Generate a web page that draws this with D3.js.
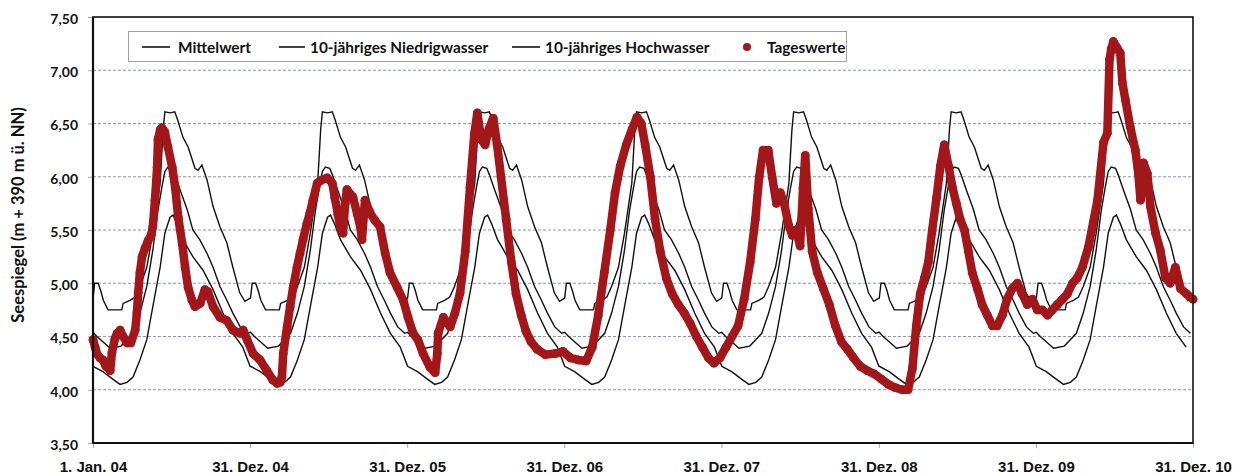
<!DOCTYPE html>
<html>
<head>
<meta charset="utf-8">
<script src="https://cdn.jsdelivr.net/npm/d3@7"></script>
<style>
  body { margin: 0; background: #fff; }
  svg { display: block; }
</style>
</head>
<body>
<svg id="chart" width="1237" height="475"></svg>
<script>
// ---- data -------------------------------------------------------------
const yTickValues = [3.5, 4.0, 4.5, 5.0, 5.5, 6.0, 6.5, 7.0, 7.5];
const xTickDates = ["2004-01-01", "2004-12-31", "2005-12-31", "2006-12-31",
                    "2007-12-31", "2008-12-31", "2009-12-31", "2010-12-31"];
const xTickLabels = ["1. Jan. 04", "31. Dez. 04", "31. Dez. 05", "31. Dez. 06",
                     "31. Dez. 07", "31. Dez. 08", "31. Dez. 09", "31. Dez. 10"];
const years = [2004, 2005, 2006, 2007, 2008, 2009, 2010];

// Day-of-year statistics (day index, level in m + 390 m ü. NN)
const mittelDays   = [0, 9, 23, 40, 65, 93, 109, 125, 139, 151, 160, 167, 174, 184, 190, 202, 219, 232, 248, 265, 279, 295, 311, 325, 342, 358, 365];
const mittelLevels = [4.54, 4.50, 4.45, 4.39, 4.41, 4.53, 4.72, 4.97, 5.31, 5.69, 5.90, 6.05, 6.09, 6.08, 6.02, 5.88, 5.69, 5.50, 5.41, 5.28, 5.15, 4.97, 4.84, 4.72, 4.59, 4.53, 4.54];

const niedrigDays   = [0, 23, 46, 63, 79, 93, 109, 125, 139, 156, 167, 179, 186, 195, 209, 232, 256, 279, 302, 325, 348, 365];
const niedrigLevels = [4.22, 4.17, 4.10, 4.05, 4.07, 4.12, 4.28, 4.47, 4.78, 5.15, 5.47, 5.62, 5.64, 5.56, 5.41, 5.25, 5.12, 4.94, 4.72, 4.53, 4.40, 4.22];

const hochDays   = [0, 4, 12, 18, 24, 35, 67, 70, 86, 98, 109, 125, 139, 156, 163, 167, 179, 190, 197, 209, 221, 237, 244, 253, 265, 279, 295, 311, 325, 341, 353, 365];
const hochLevels = [4.86, 5.00, 5.00, 4.93, 4.84, 4.75, 4.75, 4.81, 4.84, 4.87, 4.97, 5.15, 5.47, 5.94, 6.44, 6.61, 6.60, 6.61, 6.53, 6.37, 6.28, 6.08, 6.06, 6.11, 5.97, 5.72, 5.53, 5.38, 5.15, 4.91, 4.83, 4.86];

// Daily readings (days since 1 Jan 2004, level)
const tagDays = [
  0, 5, 9, 16, 23, 30, 40, 44, 51, 56, 63, 70, 79, 88, 98, 102, 105, 109, 114, 121,
  128, 135, 139, 144, 149, 151, 156, 160, 167, 174, 184, 191, 198, 207, 214, 221, 230, 237, 249, 260,
  267, 279, 295, 311, 325, 342, 349, 358, 372, 388, 404, 418, 428, 435, 439, 442, 451, 458, 465, 474,
  481, 488, 497, 504, 511, 521, 532, 544, 556, 562, 569, 576, 581, 586, 590, 597, 604, 614, 621, 625,
  632, 644, 655, 667, 679, 690, 707, 721, 732, 744, 755, 767, 783, 795, 800, 802, 814, 830, 841, 853,
  865, 876, 886, 893, 902, 911, 920, 930, 939, 948, 960, 972, 983, 995, 1006, 1018, 1032, 1051, 1074, 1092,
  1109, 1127, 1146, 1160, 1174, 1188, 1202, 1213, 1225, 1239, 1253, 1264, 1274, 1283, 1295, 1306, 1318, 1332, 1346, 1360,
  1374, 1388, 1402, 1416, 1430, 1443, 1457, 1471, 1485, 1499, 1513, 1527, 1539, 1548, 1557, 1569, 1578, 1588, 1597, 1606,
  1616, 1625, 1634, 1643, 1650, 1655, 1662, 1671, 1683, 1697, 1711, 1725, 1739, 1753, 1767, 1783, 1799, 1815, 1832, 1848,
  1864, 1880, 1894, 1904, 1913, 1922, 1932, 1941, 1950, 1960, 1969, 1978, 1988, 1997, 2006, 2015, 2025, 2034, 2043, 2055,
  2066, 2078, 2090, 2101, 2113, 2124, 2136, 2148, 2159, 2171, 2183, 2194, 2206, 2218, 2229, 2241, 2253, 2264, 2276, 2287,
  2299, 2313, 2334, 2348, 2357, 2362, 2366, 2371, 2378, 2387, 2392, 2399, 2410, 2422, 2429, 2434, 2441, 2450, 2457, 2469,
  2480, 2492, 2503, 2515, 2527, 2541, 2556
];
const tagLevels = [
  4.47, 4.40, 4.34, 4.30, 4.28, 4.22, 4.18, 4.35, 4.48, 4.53, 4.56, 4.50, 4.44, 4.44, 4.56, 4.72, 4.91, 5.10, 5.25, 5.33,
  5.40, 5.45, 5.53, 5.78, 6.09, 6.35, 6.44, 6.46, 6.42, 6.28, 6.09, 5.90, 5.62, 5.38, 5.15, 4.96, 4.84, 4.78, 4.81, 4.94,
  4.92, 4.78, 4.68, 4.65, 4.56, 4.53, 4.56, 4.47, 4.34, 4.28, 4.18, 4.09, 4.06, 4.07, 4.12, 4.34, 4.59, 4.78, 4.96, 5.15,
  5.28, 5.41, 5.56, 5.66, 5.78, 5.94, 5.97, 5.99, 5.94, 5.80, 5.65, 5.50, 5.47, 5.75, 5.88, 5.84, 5.81, 5.65, 5.53, 5.41,
  5.78, 5.66, 5.59, 5.53, 5.28, 5.10, 4.96, 4.84, 4.68, 4.53, 4.47, 4.34, 4.21, 4.16, 4.34, 4.53, 4.68, 4.59, 4.72, 4.91,
  5.30, 5.90, 6.40, 6.60, 6.35, 6.30, 6.45, 6.55, 6.30, 6.00, 5.60, 5.20, 4.90, 4.70, 4.55, 4.45, 4.38, 4.33, 4.34, 4.36,
  4.30, 4.28, 4.27, 4.40, 4.70, 5.10, 5.50, 5.85, 6.10, 6.30, 6.45, 6.56, 6.50, 6.30, 6.00, 5.60, 5.30, 5.05, 4.90, 4.80,
  4.72, 4.62, 4.50, 4.40, 4.30, 4.25, 4.30, 4.40, 4.50, 4.60, 4.85, 5.20, 5.60, 6.00, 6.25, 6.25, 6.00, 5.75, 5.85, 5.75,
  5.55, 5.45, 5.50, 5.35, 5.90, 6.20, 5.70, 5.30, 5.10, 4.95, 4.80, 4.60, 4.45, 4.38, 4.30, 4.22, 4.18, 4.15, 4.10, 4.05,
  4.02, 4.00, 4.00, 4.20, 4.60, 4.90, 5.05, 5.20, 5.50, 5.80, 6.10, 6.30, 6.10, 5.90, 5.75, 5.60, 5.50, 5.30, 5.10, 4.95,
  4.80, 4.70, 4.60, 4.60, 4.70, 4.85, 4.95, 5.00, 4.90, 4.80, 4.85, 4.75, 4.75, 4.70, 4.75, 4.80, 4.85, 4.90, 5.00, 5.05,
  5.15, 5.34, 5.78, 6.32, 6.41, 7.10, 7.20, 7.27, 7.22, 7.16, 6.88, 6.72, 6.47, 6.25, 6.03, 5.78, 6.13, 6.03, 5.72, 5.47,
  5.31, 5.05, 5.00, 5.15, 4.95, 4.90, 4.85
];

// ---- layout -----------------------------------------------------------
const svg = d3.select("#chart");
const plot = { left: 93, right: 1193, top: 17, bottom: 443 };
const start = new Date(2004, 0, 1);
const parse = d3.timeParse("%Y-%m-%d");

const x = d3.scaleTime()
  .domain([start, new Date(2010, 11, 31)])
  .range([plot.left, plot.right]);
const y = d3.scaleLinear()
  .domain([3.5, 7.5])
  .range([plot.bottom, plot.top]);

// horizontal dashed grid
svg.append("g")
  .selectAll("line")
  .data(yTickValues.filter(v => v > 3.5 && v < 7.5))
  .join("line")
  .attr("x1", plot.left).attr("x2", plot.right)
  .attr("y1", d => y(d)).attr("y2", d => y(d))
  .attr("stroke", "#8f96a0")
  .attr("stroke-width", 1)
  .attr("stroke-dasharray", "3,2");

// y axis
const yAxis = svg.append("g")
  .attr("transform", `translate(${plot.left},0)`)
  .call(d3.axisLeft(y).tickValues(yTickValues).tickSize(5).tickPadding(10)
    .tickFormat(d => d3.format(".2f")(d).replace(".", ",")));
yAxis.select(".domain").remove();
yAxis.selectAll(".tick line").attr("stroke", "#aaa");
yAxis.selectAll(".tick text")
  .attr("font-family", "Lato, 'Open Sans', sans-serif")
  .attr("font-weight", "bold")
  .attr("font-size", "14px")
  .attr("fill", "#111")
  .attr("dy", "0.45em");

// x axis
const xAxis = svg.append("g")
  .attr("transform", `translate(0,${plot.bottom})`)
  .call(d3.axisBottom(x).tickValues(xTickDates.map(parse)).tickSize(5).tickPadding(13)
    .tickFormat((d, i) => xTickLabels[i]));
xAxis.select(".domain").remove();
xAxis.selectAll(".tick line").attr("stroke", "#aaa");
xAxis.selectAll(".tick text")
  .attr("font-family", "'Liberation Sans', Arial, sans-serif")
  .attr("font-weight", "bold")
  .attr("font-size", "15px")
  .attr("fill", "#111");

// y axis title
svg.append("text")
  .attr("transform", "translate(24,215) rotate(-90)")
  .attr("text-anchor", "middle")
  .attr("font-family", "Lato, 'Open Sans', sans-serif")
  .attr("font-weight", "bold")
  .attr("font-size", "16.5px")
  .attr("fill", "#111")
  .text("Seespiegel (m + 390 m ü. NN)");

// ---- yearly statistic lines ------------------------------------------
function tileYears(days, levels) {
  const pts = [];
  years.forEach(yr => {
    const y0 = new Date(yr, 0, 1);
    days.forEach((d, i) => {
      const dt = d3.timeDay.offset(y0, d);
      if (dt <= x.domain()[1]) pts.push([dt, levels[i]]);
    });
  });
  return pts;
}
const line = d3.line().x(d => x(d[0])).y(d => y(d[1]));
const statSeries = [
  tileYears(hochDays, hochLevels),
  tileYears(mittelDays, mittelLevels),
  tileYears(niedrigDays, niedrigLevels)
];
svg.append("g")
  .selectAll("path")
  .data(statSeries)
  .join("path")
  .attr("d", line)
  .attr("fill", "none")
  .attr("stroke", "#111")
  .attr("stroke-width", 1.4);

// ---- daily readings --------------------------------------------------
const tage = tagDays.map((d, i) => [d3.timeDay.offset(start, d), tagLevels[i]]);
const red = "#a3161a";
svg.append("path")
  .datum(tage)
  .attr("d", line)
  .attr("fill", "none")
  .attr("stroke", red)
  .attr("stroke-width", 8.5)
  .attr("stroke-linejoin", "round")
  .attr("stroke-linecap", "round");
svg.append("g")
  .selectAll("circle")
  .data(tage)
  .join("circle")
  .attr("cx", d => x(d[0]))
  .attr("cy", d => y(d[1]))
  .attr("r", 4.4)
  .attr("fill", red);

// ---- plot frame ------------------------------------------------------
svg.append("rect")
  .attr("x", plot.left).attr("y", plot.top)
  .attr("width", plot.right - plot.left).attr("height", plot.bottom - plot.top)
  .attr("fill", "none")
  .attr("stroke", "#111")
  .attr("stroke-width", 1.6);
svg.append("line")
  .attr("x1", plot.left).attr("x2", plot.left)
  .attr("y1", plot.top).attr("y2", plot.bottom)
  .attr("stroke", "#111").attr("stroke-width", 2.2);
svg.append("line")
  .attr("x1", plot.left).attr("x2", plot.right)
  .attr("y1", plot.bottom).attr("y2", plot.bottom)
  .attr("stroke", "#111").attr("stroke-width", 2.2);

// ---- legend ----------------------------------------------------------
const legend = svg.append("g");
legend.append("rect")
  .attr("x", 128.5).attr("y", 31.5).attr("width", 718).attr("height", 30)
  .attr("fill", "#fff").attr("stroke", "#a0a0a0").attr("stroke-width", 1);
const legendItems = [
  { label: "Mittelwert", kind: "line", x1: 142, x2: 170, tx: 178 },
  { label: "10-jähriges Niedrigwasser", kind: "line", x1: 279, x2: 305, tx: 310 },
  { label: "10-jähriges Hochwasser", kind: "line", x1: 512, x2: 540, tx: 545 },
  { label: "Tageswerte", kind: "dot", x1: 747, x2: 747, tx: 767 }
];
legendItems.forEach(it => {
  if (it.kind === "line") {
    legend.append("line").attr("x1", it.x1).attr("x2", it.x2).attr("y1", 47).attr("y2", 47)
      .attr("stroke", "#111").attr("stroke-width", 1.6);
  } else {
    legend.append("circle").attr("cx", it.x1).attr("cy", 47).attr("r", 4).attr("fill", red);
  }
  legend.append("text")
    .attr("x", it.tx)
    .attr("y", 47)
    .attr("dy", "0.36em")
    .attr("font-family", "Lato, 'Open Sans', sans-serif")
    .attr("font-weight", "bold")
    .attr("font-size", "15.4px")
    .attr("fill", "#111")
    .text(it.label);
});
</script>
</body>
</html>
